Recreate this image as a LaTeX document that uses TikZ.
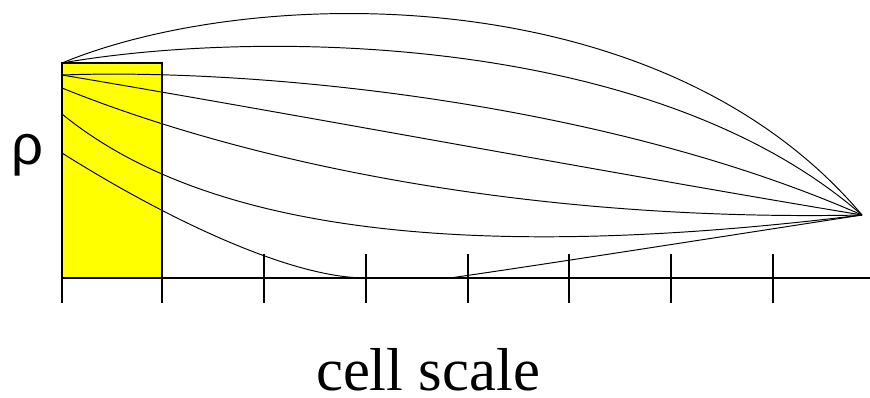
\documentclass[tikz,border=0pt]{standalone}
\usepackage{fontspec}
\setmainfont{Liberation Serif}
\newfontfamily\rhofont{Liberation Sans}
\definecolor{boxyellow}{RGB}{255,255,0}
\begin{document}
\begin{tikzpicture}[x=0.02cm,y=-0.02cm,
  curve/.style={line width=0.55pt},
  thick line/.style={line width=1.4pt},
  tickmark/.style={line width=1.3pt}]
\useasboundingbox (0,0) rectangle (870,397);
% box
\fill[boxyellow] (62,63) rectangle (162,278);
\draw[thick line] (62,278) -- (62,63) -- (162,63) -- (162,278);
% named end points
\coordinate (top) at (62,63);
\coordinate (s1) at (62,75);
\coordinate (s2) at (62,88);
\coordinate (s3) at (62,114);
\coordinate (s4) at (62,153);
\coordinate (touch) at (366,278);
\coordinate (lift) at (450,278);
\coordinate (end) at (862,215);
% curves
\draw[curve] (top) .. controls (250,-15) and (660,-25) .. (end);
\draw[curve] (top) .. controls (250,30) and (650,30) .. (end);
\draw[curve] (s1) .. controls (250,68) and (600,100) .. (end);
\draw[curve] (s1) .. controls (300,115) and (620,175) .. (end);
\draw[curve] (s2) .. controls (240,160) and (520,222) .. (end);
\draw[curve] (s3) .. controls (210,235) and (480,262) .. (end);
\draw[curve] (s4) .. controls (165,218) and (290,278) .. (touch) -- (lift) .. controls (560,262) and (700,240) .. (end);
% axis
\draw[thick line] (62,278) -- (870,278);
\foreach \x in {62,162} \draw[tickmark] (\x,278) -- (\x,303);
\foreach \x in {264,366,468,569,671,773} \draw[tickmark] (\x,254) -- (\x,303);
% labels
\node[anchor=base, inner sep=0pt, font=\rhofont\fontsize{32}{32}\selectfont] (rho) at (27,164) {ρ};
\node[anchor=base, inner sep=0pt, font=\fontsize{34.5}{34.5}\selectfont] (xl) at (428,390) {cell scale};
\end{tikzpicture}
\end{document}
